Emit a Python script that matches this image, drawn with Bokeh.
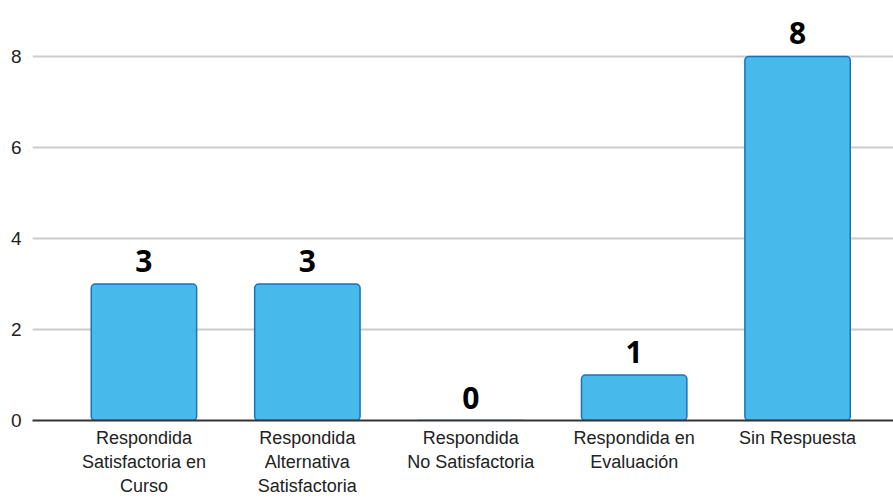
from bokeh.plotting import figure
from bokeh.models import ColumnDataSource, Range1d, FixedTicker, LabelSet
from bokeh.core.properties import value
from bokeh.embed import file_html
from bokeh.resources import INLINE

categories = ["Respondida\nSatisfactoria en\nCurso",
              "Respondida\nAlternativa\nSatisfactoria",
              "Respondida\nNo Satisfactoria",
              "Respondida en\nEvaluación",
              "Sin Respuesta"]
values = [3, 3, 0, 1, 8]
value_labels = [str(v) for v in values]
y_ticks = [0, 2, 4, 6, 8]

xs = list(range(len(categories)))
src = ColumnDataSource(dict(x=xs, top=values, lab=value_labels))

p = figure(width=893, height=500, output_backend="svg", toolbar_location=None,
           x_range=Range1d(-0.682, 4.587), y_range=Range1d(0, 9.23),
           min_border_left=32, min_border_right=0, min_border_top=0, min_border_bottom=80)
p.outline_line_color = None
p.background_fill_color = "white"

p.vbar(x="x", top="top", width=0.645, source=src, fill_color="#47b9eb",
       line_color="#1a72bd", line_width=1.5, border_radius=4)

labels = LabelSet(x="x", y="top", text="lab", source=src, text_align="center",
                  text_baseline="alphabetic", y_offset=12, text_font=value("Open Sans"),
                  text_font_style="bold", text_font_size="30px", text_color="#000000")
p.add_layout(labels)

p.xaxis.ticker = FixedTicker(ticks=xs)
p.xaxis.major_label_overrides = {i: c for i, c in enumerate(categories)}
p.xaxis.major_label_text_font = "Liberation Sans"
p.xaxis.major_label_text_font_size = "18px"
p.xaxis.major_label_text_color = "#222222"
p.xaxis.major_label_standoff = 7
p.xaxis.axis_line_color = "#333333"
p.xaxis.axis_line_width = 2
p.xaxis.major_tick_line_color = None
p.xaxis.major_tick_out = 0
p.xaxis.major_tick_in = 0
p.xaxis.minor_tick_line_color = None

p.yaxis.ticker = FixedTicker(ticks=y_ticks)
p.yaxis.major_label_text_font = "Liberation Sans"
p.yaxis.major_label_text_font_size = "19px"
p.yaxis.major_label_text_color = "#222222"
p.yaxis.major_label_standoff = 11
p.yaxis.axis_line_color = None
p.yaxis.major_tick_line_color = None
p.yaxis.major_tick_out = 0
p.yaxis.major_tick_in = 0
p.yaxis.minor_tick_line_color = None

p.xgrid.grid_line_color = None
p.ygrid.grid_line_color = "#cccccc"
p.ygrid.grid_line_width = 2
p.ygrid.ticker = FixedTicker(ticks=y_ticks[1:])

open("out.html", "w").write(file_html(p, INLINE))
